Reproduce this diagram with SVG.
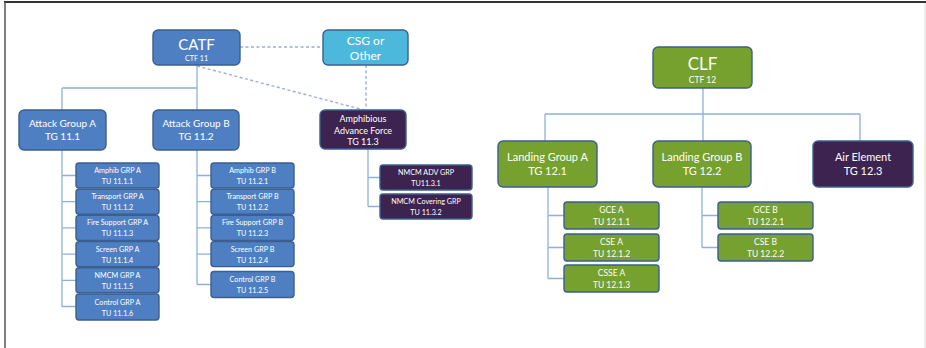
<svg xmlns="http://www.w3.org/2000/svg" width="926" height="348" viewBox="0 0 926 348">
<style>
.bx{stroke:#3b5f8e;stroke-width:1.4}
.blue{fill:#4f7fc3}
.cyan{fill:#4cb9dc}
.pur{fill:#3c2350}
.grn{fill:#76a12f}
text{font-family:Lato,"Open Sans","Liberation Sans",sans-serif;fill:#ffffff;text-anchor:middle}
.t14{font-size:15px}
.t12{font-size:12px}
.t10{font-size:10px}
.t9{font-size:9px}
.t8{font-size:8.5px}
.t7{font-size:7.2px}
.ln{stroke:#8fb0dc;stroke-width:1.3;fill:none}
.dt{stroke:#9aaed0;stroke-width:1.4;fill:none;stroke-dasharray:3 2.5}
</style>
<rect x="0" y="0" width="926" height="348" fill="#ffffff"/>
<line x1="4" y1="2" x2="926" y2="2" stroke="#333" stroke-width="2"/>
<line x1="5" y1="2" x2="5" y2="348" stroke="#555" stroke-width="1.5"/>
<line x1="925" y1="3" x2="925" y2="348" stroke="#ddd" stroke-width="1"/>
<g id="connectors">
<path class="dt" d="M240,47 H323"/>
<path class="dt" d="M366,65 V110"/>
<path class="dt" d="M197,66 L364,110"/>
<path class="ln" d="M197,65 V88 M62,88 H197 M62,88 V110 M197,88 V110"/>
<path class="ln" d="M62,150 V307 M62,175.5 H76 M62,201.7 H76 M62,227.9 H76 M62,254.1 H76 M62,280.3 H76 M62,306.5 H76"/>
<path class="ln" d="M197,150 V284.5 M197,175.5 H211 M197,201.7 H211 M197,227.9 H211 M197,254.1 H211 M197,284.5 H211"/>
<path class="ln" d="M368,149 V206.5 M368,177.5 H380 M368,206.5 H380"/>
<path class="ln" d="M703,88 V141 M545,114 H860 M545,114 V141 M860,114 V141"/>
<path class="ln" d="M548,187 V278.5 M548,215.5 H564 M548,247.5 H564 M548,278.5 H564"/>
<path class="ln" d="M702,187 V247.5 M702,215.5 H718 M702,247.5 H718"/>
</g>
<g id="catf"><rect class="bx blue" x="153" y="30" width="87" height="35" rx="5"/><text class="t14" x="196.5" y="50">CATF</text><text class="t7" x="196.5" y="61">CTF 11</text></g>
<g id="csg"><rect class="bx cyan" x="323" y="30" width="85" height="35" rx="5"/><text class="t12" x="365.5" y="45">CSG or</text><text class="t12" x="365.5" y="60">Other</text></g>
<g id="atkA"><rect class="bx blue" x="19" y="110" width="87" height="40" rx="5"/><text class="t10" x="62.5" y="127">Attack Group A</text><text class="t10" x="62.5" y="140">TG 11.1</text></g>
<g id="atkB"><rect class="bx blue" x="153" y="110" width="86" height="40" rx="5"/><text class="t10" x="196" y="127">Attack Group B</text><text class="t10" x="196" y="140">TG 11.2</text></g>
<g id="aaf"><rect class="bx pur" x="320" y="110" width="86" height="39" rx="5"/><text class="t9" x="363" y="122">Amphibious</text><text class="t9" x="363" y="133.5">Advance Force</text><text class="t9" x="363" y="145">TG 11.3</text></g>
<g id="a1"><rect class="bx blue" x="76" y="163" width="83" height="25" rx="3"/><text class="t7" x="117.5" y="173">Amphib GRP A</text><text class="t7" x="117.5" y="184">TU 11.1.1</text></g>
<g id="a2"><rect class="bx blue" x="76" y="189.2" width="83" height="25" rx="3"/><text class="t7" x="117.5" y="199.2">Transport GRP A</text><text class="t7" x="117.5" y="210.2">TU 11.1.2</text></g>
<g id="a3"><rect class="bx blue" x="76" y="215.4" width="83" height="25" rx="3"/><text class="t7" x="117.5" y="225.4">Fire Support GRP A</text><text class="t7" x="117.5" y="236.4">TU 11.1.3</text></g>
<g id="a4"><rect class="bx blue" x="76" y="241.6" width="83" height="25" rx="3"/><text class="t7" x="117.5" y="251.6">Screen GRP A</text><text class="t7" x="117.5" y="262.6">TU 11.1.4</text></g>
<g id="a5"><rect class="bx blue" x="76" y="267.8" width="83" height="25" rx="3"/><text class="t7" x="117.5" y="277.8">NMCM GRP A</text><text class="t7" x="117.5" y="288.8">TU 11.1.5</text></g>
<g id="a6"><rect class="bx blue" x="76" y="294" width="83" height="26" rx="3"/><text class="t7" x="117.5" y="304.5">Control GRP A</text><text class="t7" x="117.5" y="315.5">TU 11.1.6</text></g>
<g id="b1"><rect class="bx blue" x="211" y="163" width="83" height="25" rx="3"/><text class="t7" x="252.5" y="173">Amphib GRP B</text><text class="t7" x="252.5" y="184">TU 11.2.1</text></g>
<g id="b2"><rect class="bx blue" x="211" y="189.2" width="83" height="25" rx="3"/><text class="t7" x="252.5" y="199.2">Transport GRP B</text><text class="t7" x="252.5" y="210.2">TU 11.2.2</text></g>
<g id="b3"><rect class="bx blue" x="211" y="215.4" width="83" height="25" rx="3"/><text class="t7" x="252.5" y="225.4">Fire Support GRP B</text><text class="t7" x="252.5" y="236.4">TU 11.2.3</text></g>
<g id="b4"><rect class="bx blue" x="211" y="241.6" width="83" height="25" rx="3"/><text class="t7" x="252.5" y="251.6">Screen GRP B</text><text class="t7" x="252.5" y="262.6">TU 11.2.4</text></g>
<g id="b5"><rect class="bx blue" x="211" y="271.5" width="83" height="26" rx="3"/><text class="t7" x="252.5" y="282">Control GRP B</text><text class="t7" x="252.5" y="293">TU 11.2.5</text></g>
<g id="c1"><rect class="bx pur" x="380" y="165" width="92" height="25" rx="3"/><text class="t7" x="426" y="175">NMCM ADV GRP</text><text class="t7" x="426" y="186">TU11.3.1</text></g>
<g id="c2"><rect class="bx pur" x="380" y="194" width="92" height="25" rx="3"/><text class="t7" x="426" y="204">NMCM Covering GRP</text><text class="t7" x="426" y="215">TU 11.3.2</text></g>
<g id="clf"><rect class="bx grn" x="653" y="47" width="99" height="41" rx="5"/><text x="702.5" y="70" style="font-size:17px">CLF</text><text class="t8" x="702.5" y="83">CTF 12</text></g>
<g id="lgA"><rect class="bx grn" x="498" y="141" width="99" height="46" rx="5"/><text x="547.5" y="161" style="font-size:11px">Landing Group A</text><text x="547.5" y="175" style="font-size:11px">TG 12.1</text></g>
<g id="lgB"><rect class="bx grn" x="653" y="141" width="98" height="46" rx="5"/><text x="702" y="161" style="font-size:11px">Landing Group B</text><text x="702" y="175" style="font-size:11px">TG 12.2</text></g>
<g id="air"><rect class="bx pur" x="813" y="141" width="100" height="46" rx="5"/><text x="863" y="161" style="font-size:11px">Air Element</text><text x="863" y="175" style="font-size:11px">TG 12.3</text></g>
<g id="g1"><rect class="bx grn" x="564" y="202" width="95" height="27" rx="3"/><text class="t8" x="611.5" y="213">GCE A</text><text class="t8" x="611.5" y="225">TU 12.1.1</text></g>
<g id="g2"><rect class="bx grn" x="564" y="234" width="95" height="27" rx="3"/><text class="t8" x="611.5" y="245">CSE A</text><text class="t8" x="611.5" y="257">TU 12.1.2</text></g>
<g id="g3"><rect class="bx grn" x="564" y="265" width="95" height="27" rx="3"/><text class="t8" x="611.5" y="276">CSSE A</text><text class="t8" x="611.5" y="288">TU 12.1.3</text></g>
<g id="h1"><rect class="bx grn" x="718" y="202" width="95" height="27" rx="3"/><text class="t8" x="765.5" y="213">GCE B</text><text class="t8" x="765.5" y="225">TU 12.2.1</text></g>
<g id="h2"><rect class="bx grn" x="718" y="234" width="95" height="27" rx="3"/><text class="t8" x="765.5" y="245">CSE B</text><text class="t8" x="765.5" y="257">TU 12.2.2</text></g>
</svg>
